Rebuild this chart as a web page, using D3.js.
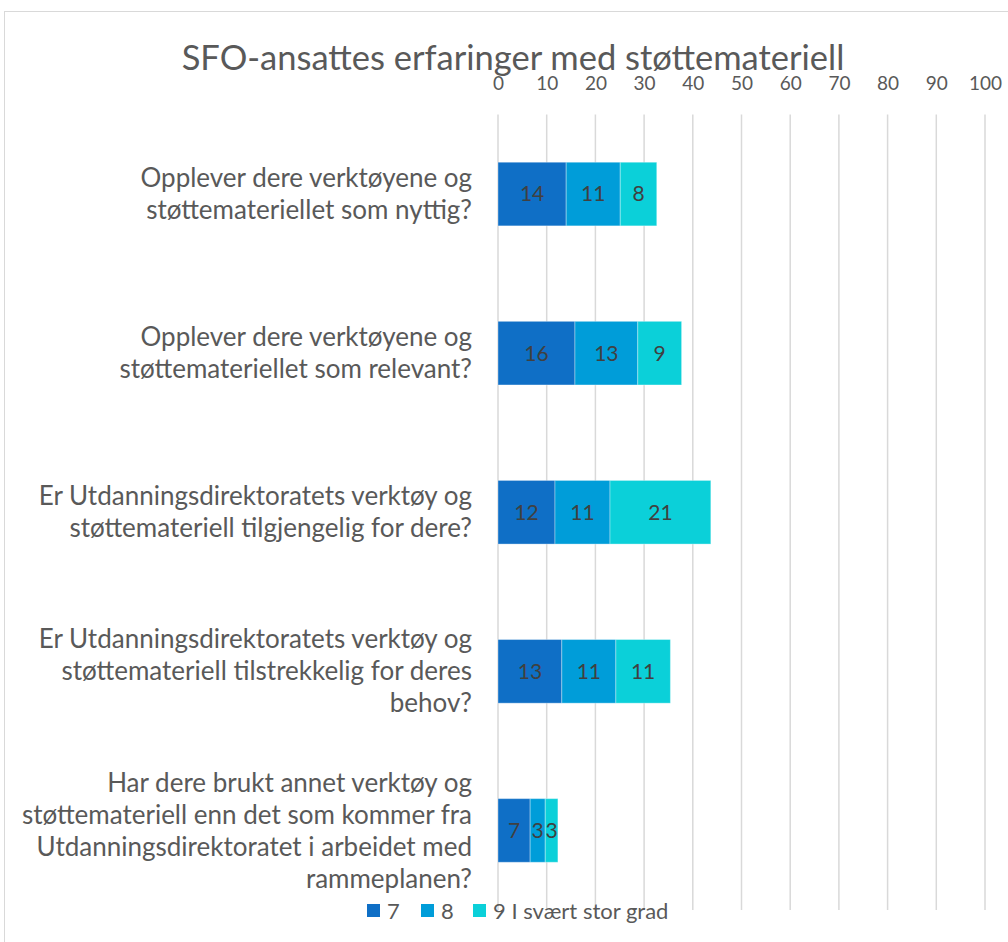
<!DOCTYPE html>
<html><head><meta charset="utf-8">
<script src="https://cdn.jsdelivr.net/npm/d3@7"></script>
<style>
html,body{margin:0;padding:0;background:#fff;}
svg{display:block;font-family:Lato, "Open Sans", sans-serif;}
</style></head>
<body>
<svg id="chart" width="1008" height="942"></svg>
<script>
const title = "SFO-ansattes erfaringer med støttemateriell";
const categories = [
  ["Opplever dere verktøyene og", "støttemateriellet som nyttig?"],
  ["Opplever dere verktøyene og", "støttemateriellet som relevant?"],
  ["Er Utdanningsdirektoratets verktøy og", "støttemateriell tilgjengelig for dere?"],
  ["Er Utdanningsdirektoratets verktøy og", "støttemateriell tilstrekkelig for deres", "behov?"],
  ["Har dere brukt annet verktøy og", "støttemateriell enn det som kommer fra", "Utdanningsdirektoratet i arbeidet med", "rammeplanen?"]
];
const seriesNames = ["7", "8", "9 I svært stor grad"];
const values7 = [14.0, 15.8, 11.7, 13.1, 6.6];
const values8 = [11.1, 12.9, 11.3, 11.1, 3.1];
const values9 = [7.5, 9.0, 20.7, 11.2, 2.6];
const tickValues = [0, 10, 20, 30, 40, 50, 60, 70, 80, 90, 100];
const colors = ["#0F6FC6", "#009DD9", "#0BD0D9"];

const svg = d3.select("#chart");

// chart border
svg.append("rect").attr("x", 4.5).attr("y", 11.5).attr("width", 1020).attr("height", 960)
  .attr("fill", "none").attr("stroke", "#d9d9d9").attr("stroke-width", 1);

const x = d3.scaleLinear().domain([0, 100]).range([498, 985]);
const y = d3.scaleBand().domain(d3.range(categories.length)).range([114.5, 910]).paddingInner(0.6).paddingOuter(0.3);

// title
svg.append("text").attr("x", 513).attr("y", 70).attr("text-anchor", "middle")
  .attr("font-size", 34.5).attr("fill", "#595959").text(title);

// gridlines
svg.append("g").selectAll("line").data(tickValues).join("line")
  .attr("x1", d => x(d)).attr("x2", d => x(d))
  .attr("y1", 114.5).attr("y2", 910)
  .attr("stroke", "#d9d9d9").attr("stroke-width", 1.5);

// top axis labels
const axis = d3.axisTop(x).tickValues(tickValues).tickSize(0).tickPadding(0);
const ax = svg.append("g").attr("transform", "translate(0,90)").call(axis);
ax.select(".domain").remove();
ax.selectAll("text").attr("font-size", 19).attr("fill", "#595959").attr("font-family", "Lato, sans-serif");

// stacked data
const stackData = categories.map((c, i) => ({i, s0: values7[i], s1: values8[i], s2: values9[i]}));
const series = d3.stack().keys(["s0", "s1", "s2"])(stackData);

const g = svg.append("g");
series.forEach((s, si) => {
  g.selectAll(null).data(s).join("rect")
    .attr("x", d => x(d[0])).attr("width", d => x(d[1]) - x(d[0]))
    .attr("y", d => y(d.data.i)).attr("height", y.bandwidth())
    .attr("fill", colors[si]).attr("stroke", "rgba(255,255,255,0.35)").attr("stroke-width", 1);
  g.selectAll(null).data(s).join("text")
    .attr("x", d => (x(d[0]) + x(d[1])) / 2)
    .attr("y", d => y(d.data.i) + y.bandwidth() / 2)
    .attr("dy", "0.35em").attr("text-anchor", "middle")
    .attr("font-size", 21).attr("fill", "#404040")
    .text(d => d3.format(".0f")(d[1] - d[0]));
});

// category labels
const lineH = 32;
const cg = svg.append("g");
categories.forEach((lines, i) => {
  const cy = y(i) + y.bandwidth() / 2;
  const t = cg.append("text").attr("text-anchor", "end").attr("font-size", 26).attr("fill", "#595959");
  lines.forEach((ln, k) => {
    t.append("tspan").attr("x", 472)
      .attr("y", cy + (k - (lines.length - 1) / 2) * lineH)
      .attr("dy", "0.35em").text(ln);
  });
});

// legend
const legX = [367, 421, 473];
const lg = svg.append("g");
seriesNames.forEach((n, i) => {
  lg.append("rect").attr("x", legX[i]).attr("y", 904).attr("width", 13).attr("height", 13).attr("fill", colors[i]);
  lg.append("text").attr("x", legX[i] + 20).attr("y", 911).attr("dy", "0.35em")
    .attr("font-size", 22).attr("fill", "#595959").text(n);
});
</script>
</body></html>
